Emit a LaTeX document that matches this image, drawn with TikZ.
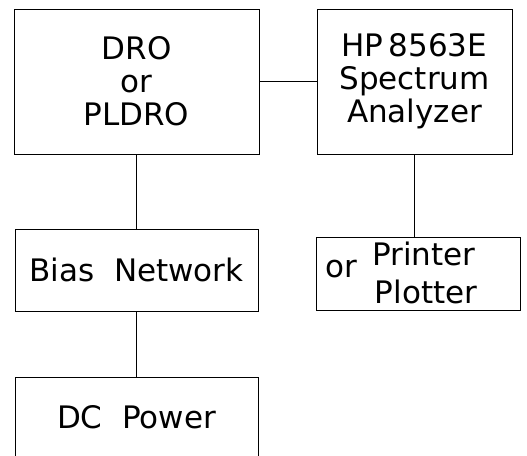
\documentclass[tikz,border=0pt]{standalone}
\usepackage{fontspec}
\setmainfont{DejaVu Sans}
\usetikzlibrary{positioning,calc}

\begin{document}
\begin{tikzpicture}[
  x=1pt, y=-1pt, line width=1pt,
  box/.style={draw,align=center},
  every node/.style={inner sep=0pt,font=\fontsize{31}{33}\selectfont}
]
  \clip (0,0) rectangle (527,455);
  \node[box,minimum width=245pt,minimum height=145pt] (dro) at (136.5,81.5) {DRO\\or\\PLDRO};
  \node[box,minimum width=195pt,minimum height=145pt] (hp) at (414.5,81.5) {HP\,8563E\\Spectrum\\Analyzer};
  \node[box,minimum width=243pt,minimum height=82pt] (bias) at (136.5,270) {Bias\ \ Network};
  \node[box,minimum width=204pt,minimum height=73pt] (prn) at (418,273.5) {};
  \node[box,minimum width=243pt,minimum height=80pt] (dc) at (136.5,417) {DC\ \ Power};
  \node[anchor=base] (prnA) at (424,265) {Printer};
  \node[anchor=base] (prnB) at (426,303) {Plotter};
  \node[anchor=base west] (prnC) at (325,277) {or};
  \draw (dro.east) -- (hp.west);
  \draw (dro.south) -- (bias.north);
  \draw (bias.south) -- (dc.north);
  \draw (hp.south) -- (hp.south |- prn.north);
\end{tikzpicture}
\end{document}
